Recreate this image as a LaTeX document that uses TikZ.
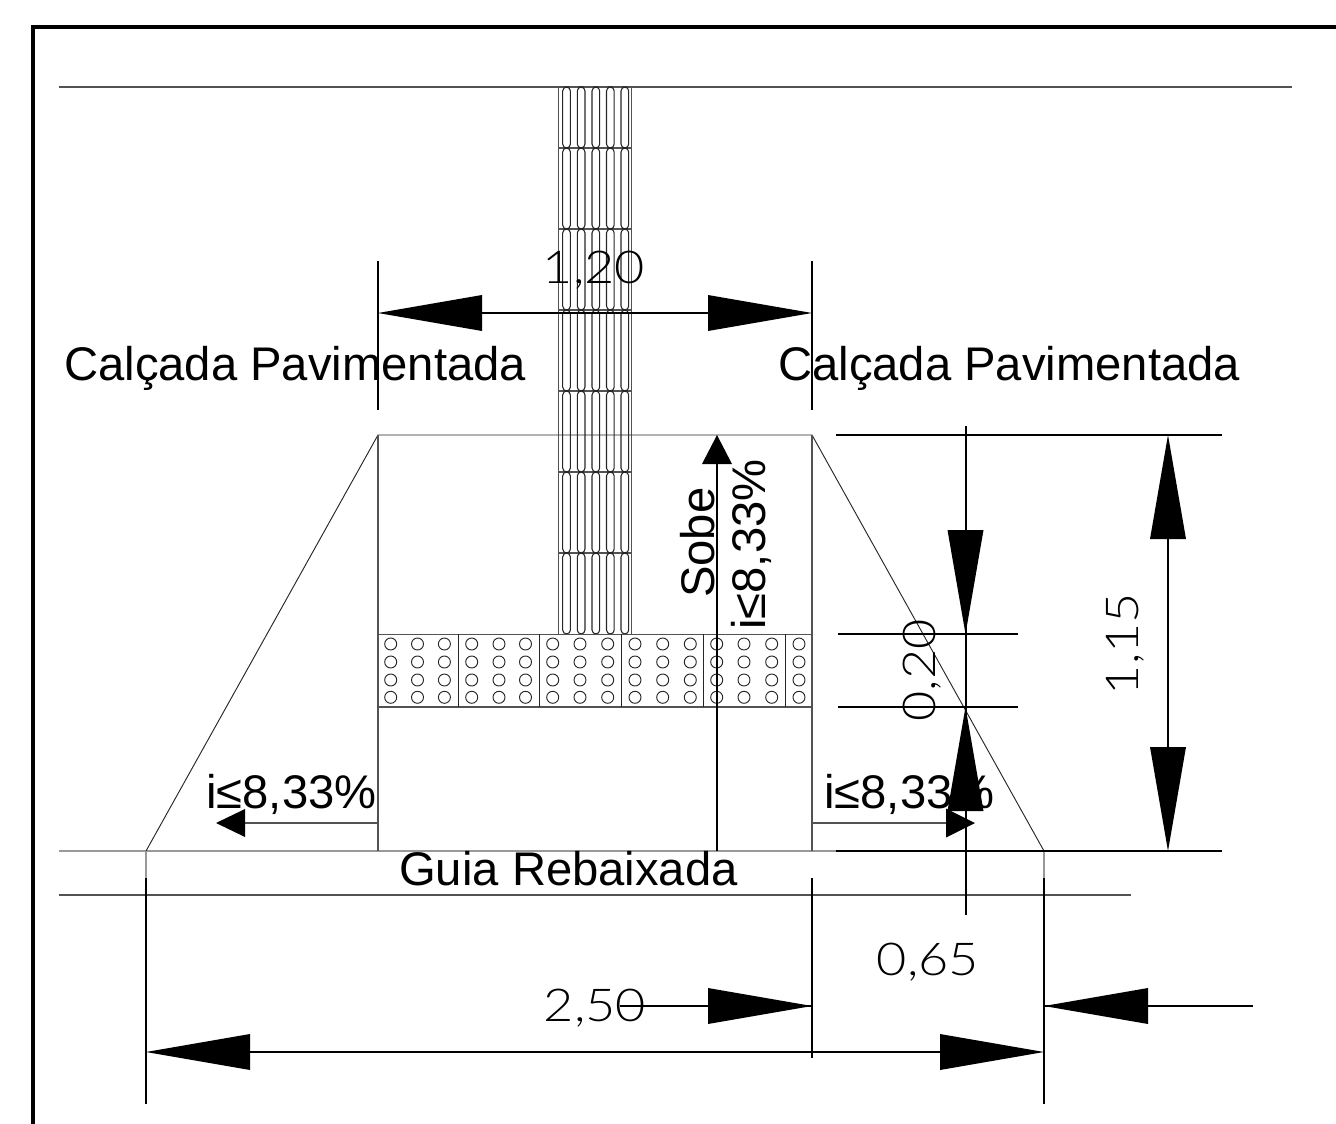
\documentclass[tikz,border=0pt]{standalone}
\usepackage{fontspec}
\setmainfont{Liberation Sans}
\newfontfamily\dimf[FakeStretch=1.15]{Lato Light}
\tikzset{
  thin line/.style={line width=0.8pt,draw=black!68},
  dim line/.style={line width=1.5pt,draw=black},
  head/.style={fill=black,draw=none},
  label/.style={inner sep=0pt,font=\fontsize{35.4}{40}\selectfont,text=black},
  dimtext/.style={inner sep=0pt,anchor=base,font=\dimf\fontsize{34}{38}\selectfont,text=black},
  dot/.style={line width=0.7pt,draw=black!85}
}
\begin{document}
\begin{tikzpicture}[x=0.75pt,y=-0.75pt]
\useasboundingbox (0,0) rectangle (1336,1124);
% frame
\draw[line width=2.4pt] (33,1124) -- (33,27) -- (1336,27);
% road lines
\draw[thin line] (59,87) -- (1292,87);
\draw[thin line,draw=black!40] (59,851) -- (836,851);
\draw[thin line] (59,895) -- (1131,895);
% tactile directional strip
\foreach \x in {558.5,631.5} \draw[thin line] (\x,87) -- (\x,634);
\foreach \y in {148,229,310,391,472,553} \draw[thin line] (558.5,\y) -- (631.5,\y);
\foreach \x in {562.7,577.3,592,606.5,621}
  \foreach \y/\z in {87/148,148/229,229/310,310/391,391/472,472/553,553/634}
    \draw[thin line,rounded corners=3pt,draw=black!85] (\x,\y) rectangle (\x+7.7,\z);
% ramp
\draw[thin line,draw=black!85,line width=0.7pt] (146,851) -- (378,435) -- (812,435) -- (1044,851);
\draw[thin line] (378,435) -- (378,851);
\draw[thin line] (812,435) -- (812,851);
\draw[thin line,draw=black!40] (1044,851) -- (1044,878);
\draw[thin line,draw=black!40] (146,851) -- (146,878);
% tactile warning band
\draw[thin line] (378,634.3) -- (812,634.3);
\draw[thin line] (378,707) -- (812,707);
\foreach \x in {458.3,539.3,621.7,703.3,785.7} \draw[thin line,draw=black!85] (\x,634.3) -- (\x,707);
\foreach \x in {390.7,417.5,444.4,471.7,499,525.5,552.7,580,607.7,635,662.7,690.3,716.7,744,771.7,799}
  \foreach \y in {644,662,680,697.3}
    \draw[dot] (\x,\y) circle[radius=6];
% labels
\node[label,anchor=base west] (calcl) at (64,380) {Calçada Pavimentada};
\node[label,anchor=base west] (calcr) at (778,380) {Calçada Pavimentada};
\node[label,anchor=base west] (guia) at (399,885) {Guia Rebaixada};
\node[label,anchor=base west] (il) at (206,808) {i≤8,33\%};
\node[label,anchor=base west] (ir) at (824,808) {i≤8,33\%};
\node[label,anchor=base west,rotate=90] (sobe) at (714,598) {Sobe};
\node[label,anchor=base west,rotate=90] (iv) at (765,630) {i≤8,33\%};
% slope arrows
\draw[thin line] (378,823) -- (245,823);
\fill[head] (216,823) -- (245,809) -- (245,837) -- cycle;
\draw[thin line] (812,823) -- (946,823);
\fill[head] (975,823) -- (946,808.5) -- (946,837.5) -- cycle;
\draw[line width=1pt] (717,851) -- (717,464);
\fill[head] (717,435) -- (702,464) -- (732,464) -- cycle;
% dimension 1,20
\draw[dim line] (378,261) -- (378,410);
\draw[dim line] (812,261) -- (812,410);
\draw[dim line] (482,313) -- (708,313);
\fill[head] (378,313) -- (482,295) -- (482,331) -- cycle;
\fill[head] (812,313) -- (708,295) -- (708,331) -- cycle;
\node[dimtext] (d120) at (594,283) {1,20};
% dimension 1,15
\draw[dim line] (836,435) -- (1222,435);
\draw[dim line] (836,851) -- (1222,851);
\draw[dim line] (1168,539) -- (1168,747);
\fill[head] (1168,435) -- (1150,539) -- (1186,539) -- cycle;
\fill[head] (1168,851) -- (1150,747) -- (1186,747) -- cycle;
\node[dimtext,rotate=90] (d115) at (1138,644) {1,15};
% dimension 0,20
\draw[dim line] (838,634) -- (1018,634);
\draw[dim line] (838,707) -- (1018,707);
\draw[dim line] (965.5,426) -- (965.5,915);
\fill[head] (965.5,634) -- (947.5,530) -- (983.5,530) -- cycle;
\fill[head] (965.5,707) -- (947.5,811) -- (983.5,811) -- cycle;
\node[dimtext,rotate=90] (d020) at (935,670.5) {0,20};
% dimension 0,65
\draw[dim line] (812,878) -- (812,1058);
\draw[dim line] (1044,878) -- (1044,1104);
\draw[dim line] (620,1006) -- (812,1006);
\draw[dim line] (1044,1006) -- (1253,1006);
\fill[head] (812,1006) -- (708,988) -- (708,1024) -- cycle;
\fill[head] (1044,1006) -- (1148,988) -- (1148,1024) -- cycle;
\node[dimtext] (d065) at (928,975) {0,65};
% dimension 2,50
\draw[dim line] (146,878) -- (146,1104);
\draw[dim line] (250,1052) -- (940,1052);
\fill[head] (146,1052) -- (250,1034) -- (250,1070) -- cycle;
\fill[head] (1044,1052) -- (940,1034) -- (940,1070) -- cycle;
\node[dimtext] (d250) at (595,1021) {2,50};
\end{tikzpicture}
\end{document}
